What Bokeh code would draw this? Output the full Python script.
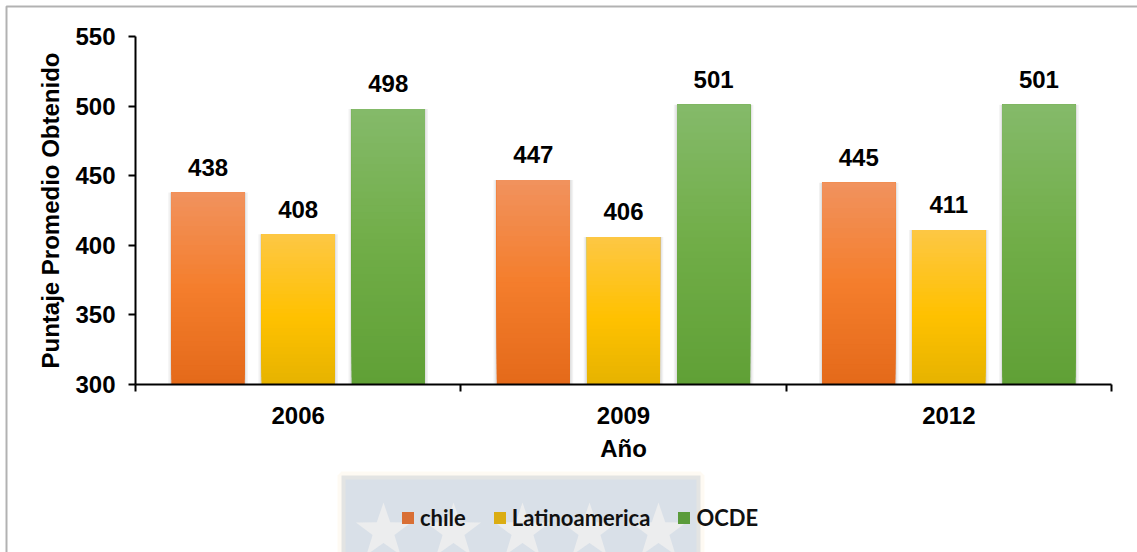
import numpy as np
from bokeh.plotting import figure
from bokeh.models import (ColumnDataSource, FixedTicker, Legend, LegendItem,
                          BoxAnnotation, PolyAnnotation)
from bokeh.core.properties import value
from bokeh.embed import file_html
from bokeh.resources import INLINE

# ---- data -------------------------------------------------------------
years = ["2006", "2009", "2012"]
series = ["chile", "Latinoamerica", "OCDE"]
chile = [438, 447, 445]
latinoamerica = [408, 406, 411]
ocde = [498, 501, 501]
y_ticks = [300, 350, 400, 450, 500, 550]
y_title = "Puntaje Promedio Obtenido"
x_title = "Año"

values = {"chile": chile, "Latinoamerica": latinoamerica, "OCDE": ocde}

# ---- page layout (pixels) ---------------------------------------------
W, H = 1137, 552
AREA_L, AREA_R, AREA_T, AREA_B = 135, 1111, 36, 384   # plotting area box
Y_MIN, Y_MAX = 300, 550
N_CAT = len(years)

# the frame spans the whole canvas; ranges are widened so that the
# data window lands on the plotting area box above
px_x = (AREA_R - AREA_L) / N_CAT
px_y = (AREA_B - AREA_T) / (Y_MAX - Y_MIN)
x_rng = (-AREA_L / px_x, (W - AREA_L) / px_x)
y_rng = (Y_MIN - (H - AREA_B) / px_y, Y_MAX + AREA_T / px_y)

# ---- style ------------------------------------------------------------
offsets = {"chile": -0.277, "Latinoamerica": 0.0, "OCDE": 0.277}
bar_width = 0.2245
# bottom, middle, top colours of each bar's vertical gradient
gradients = {
    "chile": [(0.0, "#e4691a"), (0.5, "#f47e2c"), (1.0, "#f1925e")],
    "Latinoamerica": [(0.0, "#e6b300"), (0.45, "#ffc100"), (1.0, "#fdc745")],
    "OCDE": [(0.0, "#60a036"), (0.5, "#70ad47"), (1.0, "#85ba6a")],
}
swatch = {"chile": "#d96f35", "Latinoamerica": "#dbad12", "OCDE": "#5a9b3b"}
AX_FONT = "Liberation Sans"
FS = "24px"
N_STEPS = 40


def hex_to_rgb(h):
    h = h.lstrip("#")
    return np.array([int(h[i:i + 2], 16) for i in (0, 2, 4)], dtype=float)


def gradient_color(stops, f):
    pos = [s[0] for s in stops]
    cols = [hex_to_rgb(s[1]) for s in stops]
    rgb = [np.interp(f, pos, [c[k] for c in cols]) for k in range(3)]
    return "#%02x%02x%02x" % tuple(int(round(v)) for v in rgb)


p = figure(width=W, height=H, x_range=x_rng, y_range=y_rng,
           output_backend="svg", toolbar_location=None,
           min_border_left=0, min_border_right=0,
           min_border_top=0, min_border_bottom=0)
p.xgrid.visible = False
p.ygrid.visible = False
p.outline_line_color = None
p.background_fill_color = "white"
p.border_fill_color = "white"

# watermark panel behind the legend
p.add_layout(BoxAnnotation(left=341, right=700, top=475, bottom=640,
                           left_units="canvas", right_units="canvas",
                           top_units="canvas", bottom_units="canvas",
                           fill_color="#d9e0e8", fill_alpha=1.0,
                           line_color="#fbeed6", line_width=8,
                           level="underlay"))


def star_outline(cx, cy, r_out, r_in):
    ang = np.pi / 2 + np.arange(10) * np.pi / 5
    r = np.where(np.arange(10) % 2 == 0, r_out, r_in)
    return list(cx + r * np.cos(ang)), list(cy - r * np.sin(ang))


for cx in (383, 453, 522, 589, 658):
    xs, ys = star_outline(cx, 531, 29, 11.5)
    p.add_layout(PolyAnnotation(xs=xs, ys=ys, xs_units="canvas", ys_units="canvas",
                                fill_color="#eeeeee", fill_alpha=0.85,
                                line_color=None, level="underlay"))

# outer chart border
p.add_layout(BoxAnnotation(left=6, right=1300, top=6, bottom=800,
                           left_units="canvas", right_units="canvas",
                           top_units="canvas", bottom_units="canvas",
                           fill_alpha=0.0, line_color="black", line_width=2))

legend_items = []
for s in series:
    vals = values[s]
    xs = [i + 0.5 + offsets[s] for i in range(N_CAT)]
    src = ColumnDataSource(dict(x=xs, top=vals, label=[str(v) for v in vals]))

    # soft shadow around the bars
    p.vbar(x="x", top="top", bottom=Y_MIN, width=bar_width + 0.02, source=src,
           fill_color="black", fill_alpha=0.05, line_color=None)
    p.vbar(x="x", top="top", bottom=Y_MIN, width=bar_width + 0.01, source=src,
           fill_color="black", fill_alpha=0.07, line_color=None)

    base_r = p.vbar(x="x", top="top", bottom=Y_MIN, width=bar_width, source=src,
                    fill_color=swatch[s], line_color=None)
    legend_items.append(LegendItem(label=s, renderers=[base_r]))

    # vertical gradient: stacked bands from the bar bottom up to its top
    gx, gb, gt, gc = [], [], [], []
    for x, v in zip(xs, vals):
        for k in range(N_STEPS):
            f = k / N_STEPS
            gx.append(x)
            gb.append(Y_MIN + (v - Y_MIN) * f)
            gt.append(v)
            gc.append(gradient_color(gradients[s], (k + 0.5) / N_STEPS))
    p.vbar(x=gx, bottom=gb, top=gt, width=bar_width, fill_color=gc, line_color=None)

    p.text(x="x", y="top", text="label", source=src, text_align="center",
           text_baseline="alphabetic", y_offset=-25,
           text_font=value(AX_FONT), text_font_style="bold",
           text_font_size=FS, text_color="black")

# ---- axes (pinned to the data window) ----------------------------------
xa = p.xaxis[0]
xa.fixed_location = Y_MIN
xa.bounds = (0, N_CAT)
xa.ticker = FixedTicker(ticks=[i + 0.5 for i in range(N_CAT)],
                        minor_ticks=list(range(N_CAT + 1)))
xa.major_label_overrides = {i + 0.5: y for i, y in enumerate(years)}
xa.major_tick_line_color = None
xa.major_tick_out = 0
xa.major_tick_in = 0
xa.minor_tick_out = 7
xa.minor_tick_in = 0
xa.minor_tick_line_color = "black"
xa.minor_tick_line_width = 2
xa.axis_line_color = "black"
xa.axis_line_width = 2
xa.major_label_standoff = 15
xa.axis_label = x_title
xa.axis_label_standoff = 8

ya = p.yaxis[0]
ya.fixed_location = 0
ya.bounds = (Y_MIN, Y_MAX)
ya.ticker = FixedTicker(ticks=y_ticks)
ya.major_tick_out = 7
ya.major_tick_in = 0
ya.major_tick_line_width = 2
ya.major_tick_line_color = "black"
ya.minor_tick_line_color = None
ya.axis_line_color = "black"
ya.axis_line_width = 2
ya.major_label_standoff = 13
ya.axis_label = y_title
ya.axis_label_standoff = 8

for ax in (xa, ya):
    ax.major_label_text_font = AX_FONT
    ax.major_label_text_font_style = "bold"
    ax.major_label_text_font_size = FS
    ax.major_label_text_color = "black"
    ax.axis_label_text_font = AX_FONT
    ax.axis_label_text_font_style = "bold"
    ax.axis_label_text_font_size = FS
    ax.axis_label_text_color = "black"

# ---- legend ------------------------------------------------------------
legend = Legend(items=legend_items, orientation="horizontal",
                location=(400, 21), padding=0, margin=0,
                spacing=26, label_standoff=5, glyph_width=15, glyph_height=15,
                label_text_font="Lato", label_text_font_style="bold",
                label_text_font_size="22px", label_text_color="#111111",
                background_fill_alpha=0.0, border_line_color=None)
p.add_layout(legend)

open("out.html", "w").write(file_html(p, INLINE))
